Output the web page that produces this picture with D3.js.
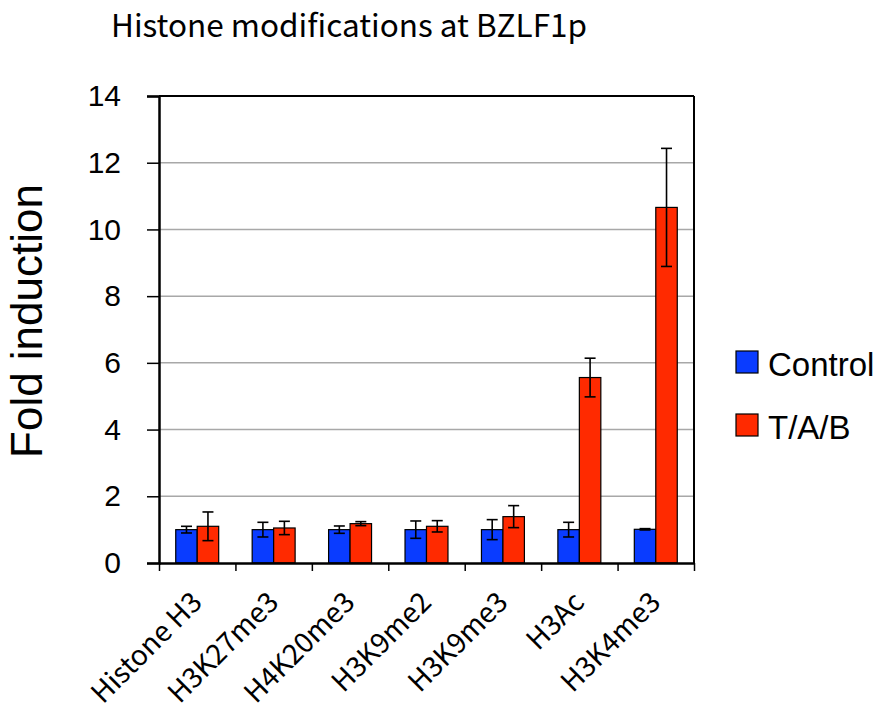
<!DOCTYPE html>
<html>
<head>
<meta charset="utf-8">
<script src="https://cdn.jsdelivr.net/npm/d3@7"></script>
<style>
  body { margin: 0; background: #fff; }
  text { font-family: Arial, "Liberation Sans", sans-serif; fill: #000; }
</style>
</head>
<body>
<script>
// values
var categories = ['Histone H3', 'H3K27me3', 'H4K20me3', 'H3K9me2', 'H3K9me3', 'H3Ac', 'H3K4me3'];
var series = ['Control', 'T/A/B'];
var control = [1.0, 1.0, 1.0, 1.0, 1.0, 1.0, 1.01];
var controlErr = [0.1, 0.22, 0.11, 0.26, 0.3, 0.22, 0.02];
var tab = [1.1, 1.05, 1.18, 1.1, 1.39, 5.56, 10.66];
var tabErr = [0.43, 0.2, 0.06, 0.17, 0.33, 0.58, 1.77];
var yTicks = [0, 2, 4, 6, 8, 10, 12, 14];
var colors = ['#0a3cff', '#ff2a00'];

var svg = d3.select('body')
  .append('svg')
  .attr('width', 892)
  .attr('height', 715);

var margin = {top: 96, right: 198, bottom: 152, left: 159},
  width = 892 - margin.left - margin.right,
  height = 715 - margin.top - margin.bottom;

var chart = svg.append('g')
  .attr('transform', `translate(${margin.left},${margin.top})`);

var x = d3.scaleBand()
  .domain(categories)
  .range([0, width]);

var x1 = d3.scaleBand()
  .domain(series)
  .range([x.bandwidth() * 0.219, x.bandwidth() * 0.781]);

var y = d3.scaleLinear()
  .domain([0, 14])
  .range([height, 0]);

// grid lines
chart.append('g')
  .selectAll('line')
  .data(yTicks.filter(d => d > 0 && d < 14))
  .enter()
    .append('line')
    .attr('x1', 0)
    .attr('x2', width)
    .attr('y1', d => y(d))
    .attr('y2', d => y(d))
    .attr('stroke', '#a8a8a8')
    .attr('stroke-width', 1.5);

var rows = categories.map((c, i) => ({
  cat: c,
  vals: [
    {s: series[0], v: control[i], e: controlErr[i]},
    {s: series[1], v: tab[i], e: tabErr[i]}
  ]
}));

var groups = chart.append('g')
  .selectAll('g')
  .data(rows)
  .enter()
    .append('g')
    .attr('transform', d => `translate(${x(d.cat)},0)`);

groups.selectAll('rect')
  .data(d => d.vals)
  .enter()
    .append('rect')
    .attr('x', d => x1(d.s))
    .attr('y', d => y(d.v))
    .attr('width', x1.bandwidth())
    .attr('height', d => height - y(d.v))
    .attr('fill', (d, i) => colors[i])
    .attr('stroke', '#000')
    .attr('stroke-width', 1.2);

// error bars
var err = groups.selectAll('g.err')
  .data(d => d.vals)
  .enter()
    .append('g')
    .attr('class', 'err')
    .attr('stroke', '#000')
    .attr('stroke-width', 1.6);

err.append('line')
  .attr('x1', d => x1(d.s) + x1.bandwidth() / 2)
  .attr('x2', d => x1(d.s) + x1.bandwidth() / 2)
  .attr('y1', d => y(d.v + d.e))
  .attr('y2', d => y(d.v - d.e));
err.append('line')
  .attr('x1', d => x1(d.s) + x1.bandwidth() / 2 - 5.5)
  .attr('x2', d => x1(d.s) + x1.bandwidth() / 2 + 5.5)
  .attr('y1', d => y(d.v + d.e))
  .attr('y2', d => y(d.v + d.e));
err.append('line')
  .attr('x1', d => x1(d.s) + x1.bandwidth() / 2 - 5.5)
  .attr('x2', d => x1(d.s) + x1.bandwidth() / 2 + 5.5)
  .attr('y1', d => y(d.v - d.e))
  .attr('y2', d => y(d.v - d.e));

// frame top/right
chart.append('line')
  .attr('x1', 0).attr('x2', width)
  .attr('y1', 0).attr('y2', 0)
  .attr('stroke', '#000').attr('stroke-width', 2);
chart.append('line')
  .attr('x1', width).attr('x2', width)
  .attr('y1', 0).attr('y2', height)
  .attr('stroke', '#000').attr('stroke-width', 2);

function yAxis(g) {
  g.call(d3.axisLeft(y).tickValues(yTicks).tickSize(12).tickPadding(26))
  g.select('.domain').attr('stroke-width', 2.5);
  g.selectAll('.tick line').attr('stroke-width', 1.5);
  g.selectAll('.tick text')
    .attr('font-size', '30px')
    .attr('font-family', 'Arial, "Liberation Sans", sans-serif');
}

// band edges for the x ticks
var xEdges = d3.scaleLinear().domain([0, categories.length]).range([0, width]);

function xAxis(g) {
  g.attr('transform', `translate(0,${height})`);
  g.call(d3.axisBottom(xEdges).tickValues(d3.range(categories.length + 1)).tickSize(8).tickSizeOuter(0).tickFormat(''));
  g.select('.domain').attr('stroke-width', 2.5);
  g.selectAll('.tick line').attr('stroke-width', 1.5);
}

chart.append('g').call(xAxis);
chart.append('g').call(yAxis);

// category labels
chart.append('g')
  .selectAll('text')
  .data(categories)
  .enter()
    .append('text')
    .attr('transform', d => `translate(${x(d) + x.bandwidth() / 2 + 6.5},${height + 41}) rotate(-45)`)
    .style('text-anchor', 'end')
    .style('font-family', '"Noto Sans CJK JP", sans-serif')
    .attr('font-size', '28px')
    .text(d => d);

// title
svg.append('text')
  .attr('x', 349)
  .attr('y', 37)
  .style('text-anchor', 'middle')
  .style('font-family', '"Noto Sans CJK JP", sans-serif')
  .attr('font-size', '31.5px')
  .text('Histone modifications at BZLF1p');

// y title
svg.append('text')
  .attr('transform', 'translate(42,321) rotate(-90)')
  .style('text-anchor', 'middle')
  .attr('font-size', '44px')
  .text('Fold induction');

// legend
var legend = svg.append('g')
  .selectAll('g')
  .data(series)
  .enter()
    .append('g')
    .attr('transform', (d, i) => `translate(736,${351 + i * 63})`);

legend.append('rect')
  .attr('width', 22)
  .attr('height', 22)
  .attr('fill', (d, i) => colors[i])
  .attr('stroke', '#000')
  .attr('stroke-width', 1.2);

legend.append('text')
  .attr('x', 32)
  .attr('y', 25)
  .attr('font-size', '33px')
  .text(d => d);
</script>
</body>
</html>
